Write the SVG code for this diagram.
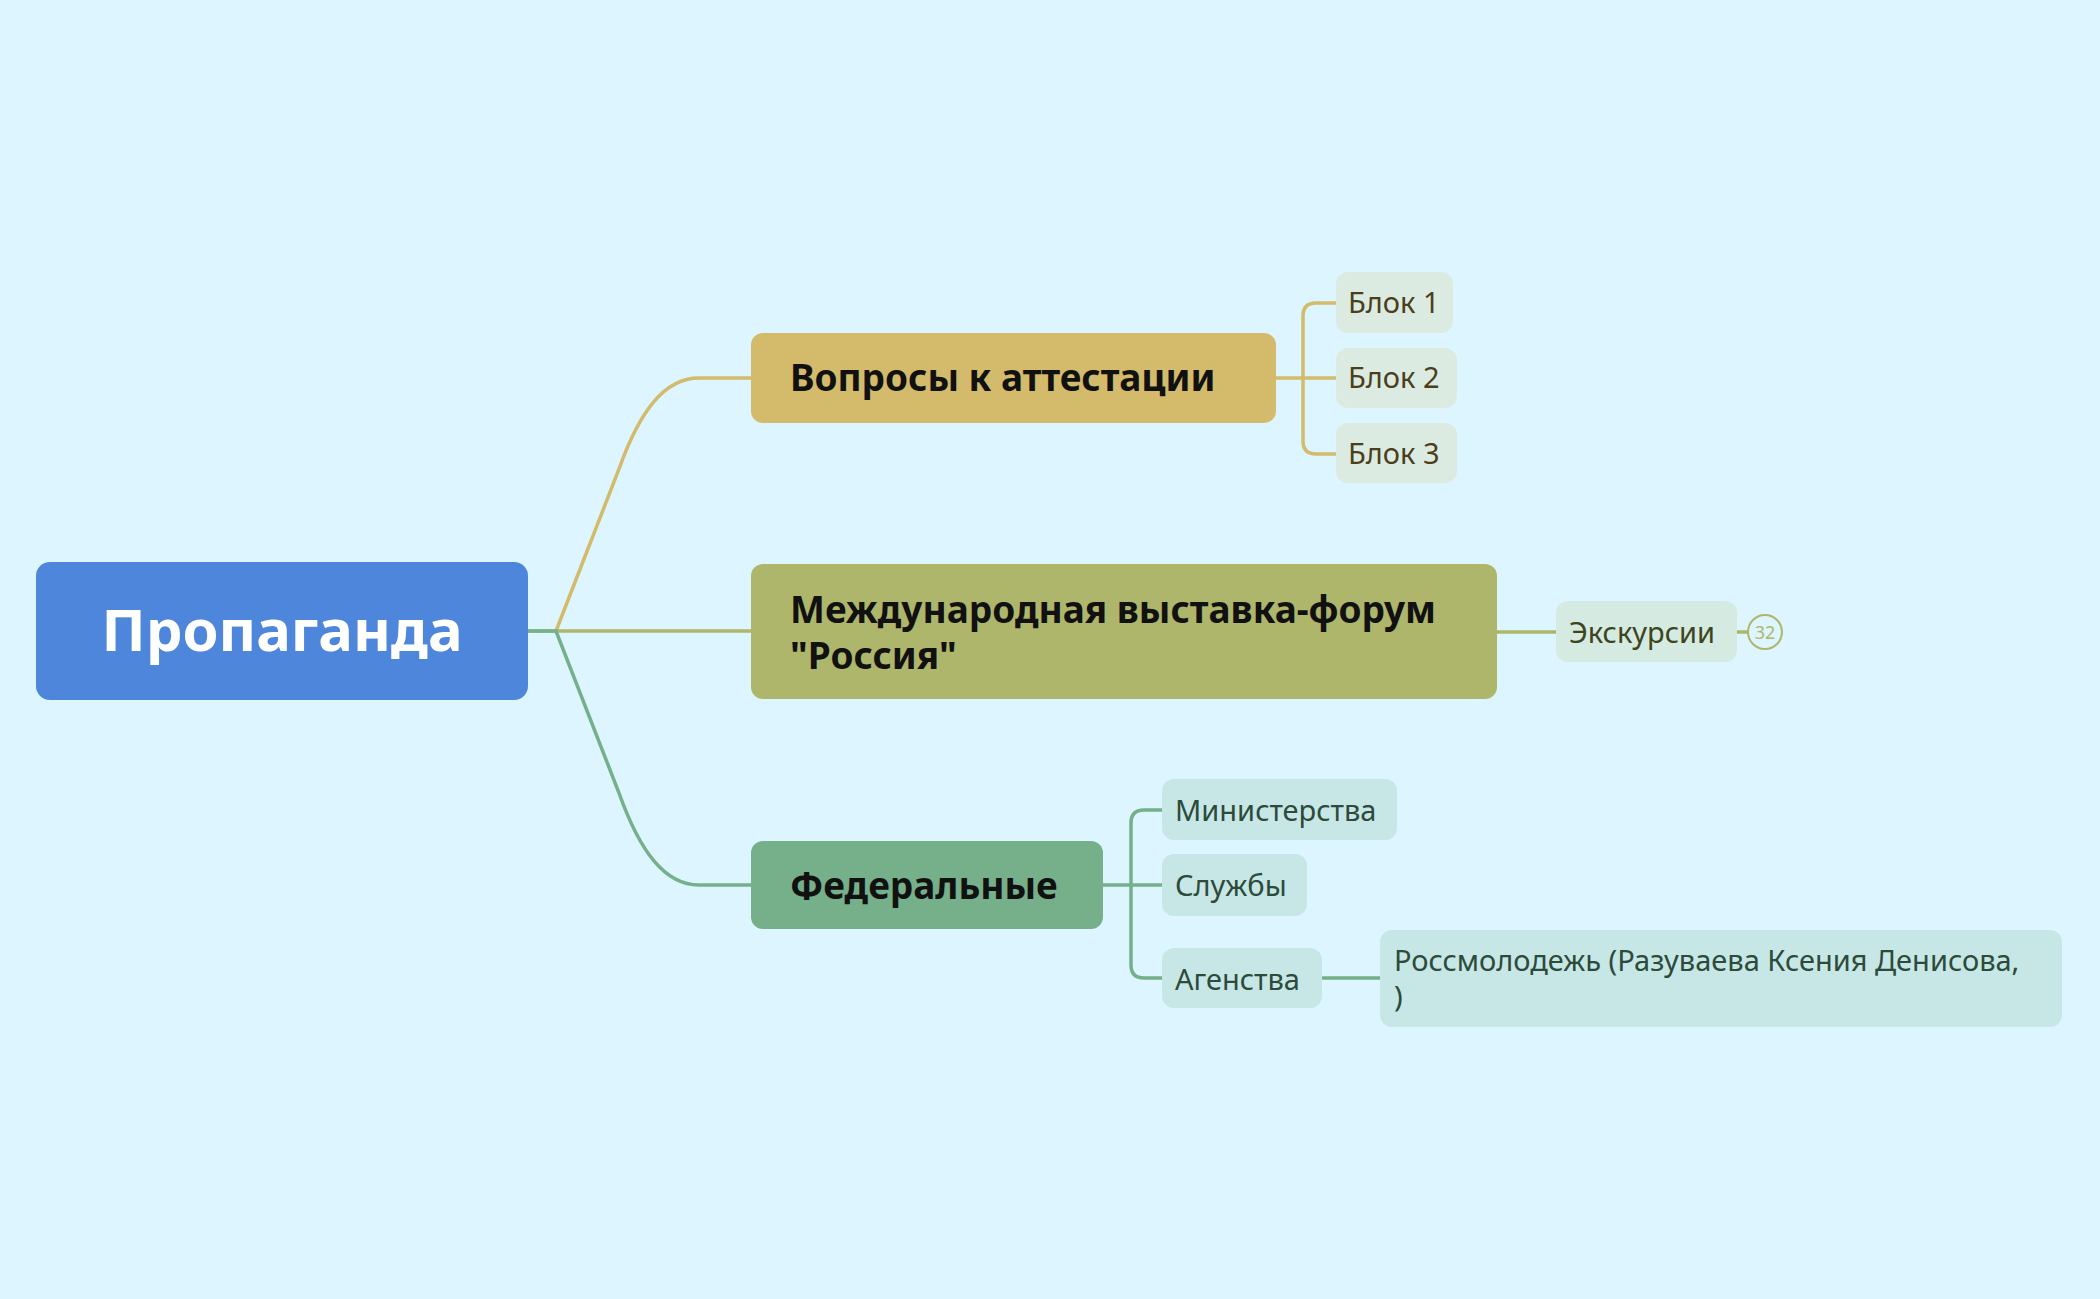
<svg xmlns="http://www.w3.org/2000/svg" width="2100" height="1299" viewBox="0 0 2100 1299">
<style>
.t{font-family:"Noto Sans","Liberation Sans",sans-serif}
.m{font-size:37px;font-weight:bold;fill:#111}
.l{font-size:29px}
.c{fill:none;stroke-width:3.5}
</style>
<rect width="2100" height="1299" fill="#DCF5FE"/>
<g id="connectors">
<path class="c" stroke="#D3BB6B" d="M556,631 L619,469 C640,410 665,378 699,378 L751,378"/>
<path class="c" stroke="#AEB66B" d="M528,631 L751,631"/>
<path class="c" stroke="#75B08A" d="M528,631 L556,631 L619,793 C640,852 665,885 699,885 L751,885"/>
<path class="c" stroke="#D3BB6B" d="M1276,378 L1303,378 M1336,303 L1316,303 Q1303,303 1303,316 L1303,441 Q1303,454 1316,454 L1336,454 M1303,378 L1336,378"/>
<path class="c" stroke="#AEB66B" d="M1497,632 L1556,632 M1737,632 L1748,632"/>
<path class="c" stroke="#75B08A" d="M1103,885 L1162,885 M1162,810 L1144,810 Q1131,810 1131,823 L1131,965 Q1131,978 1144,978 L1162,978 M1322,978 L1380,978"/>
</g>
<g id="root"><rect x="36" y="562" width="492" height="138" rx="14" fill="#4E86DB"/><text class="t" x="282" y="651" text-anchor="middle" font-size="58" font-weight="bold" fill="#fff">Пропаганда</text></g>
<g id="n1"><rect x="751" y="333" width="525" height="90" rx="12" fill="#D3BB6B"/><text class="t m" x="790" y="391">Вопросы к аттестации</text></g>
<g id="n2"><rect x="751" y="564" width="746" height="135" rx="12" fill="#AEB66B"/><text class="t m" x="790" y="623">Международная выставка-форум</text><text class="t m" x="790" y="669">"Россия"</text></g>
<g id="n3"><rect x="751" y="841" width="352" height="88" rx="12" fill="#75B08A"/><text class="t m" x="790" y="899">Федеральные</text></g>
<g id="b1"><rect x="1336" y="272" width="117" height="61" rx="12" fill="#DCEBE2"/><text class="t l" x="1348" y="313" fill="#4a3f1a">Блок 1</text></g>
<g id="b2"><rect x="1336" y="348" width="121" height="60" rx="12" fill="#DCEBE2"/><text class="t l" x="1348" y="388" fill="#4a3f1a">Блок 2</text></g>
<g id="b3"><rect x="1336" y="423" width="121" height="60" rx="12" fill="#DCEBE2"/><text class="t l" x="1348" y="464" fill="#4a3f1a">Блок 3</text></g>
<g id="ex"><rect x="1556" y="601" width="181" height="61" rx="12" fill="#D5EAE0"/><text class="t l" x="1569" y="643" fill="#3d4520">Экскурсии</text>
<circle cx="1765" cy="632" r="17" fill="none" stroke="#AEB66B" stroke-width="2"/><text class="t" x="1765" y="639" text-anchor="middle" font-size="18" fill="#AEB66B">32</text></g>
<g id="g1"><rect x="1162" y="779" width="235" height="61" rx="12" fill="#C6E7E6"/><text class="t l" x="1175" y="821" fill="#2d4a3a">Министерства</text></g>
<g id="g2"><rect x="1162" y="854" width="145" height="62" rx="12" fill="#C6E7E6"/><text class="t l" x="1175" y="896" fill="#2d4a3a">Службы</text></g>
<g id="g3"><rect x="1162" y="948" width="160" height="60" rx="12" fill="#C6E7E6"/><text class="t l" x="1175" y="990" fill="#2d4a3a">Агенства</text></g>
<g id="g4"><rect x="1380" y="930" width="682" height="97" rx="12" fill="#C6E7E6"/><text class="t l" x="1394" y="971" fill="#2d4a3a">Россмолодежь (Разуваева Ксения Денисова,</text><text class="t l" x="1394" y="1007" fill="#2d4a3a">)</text></g>
</svg>
